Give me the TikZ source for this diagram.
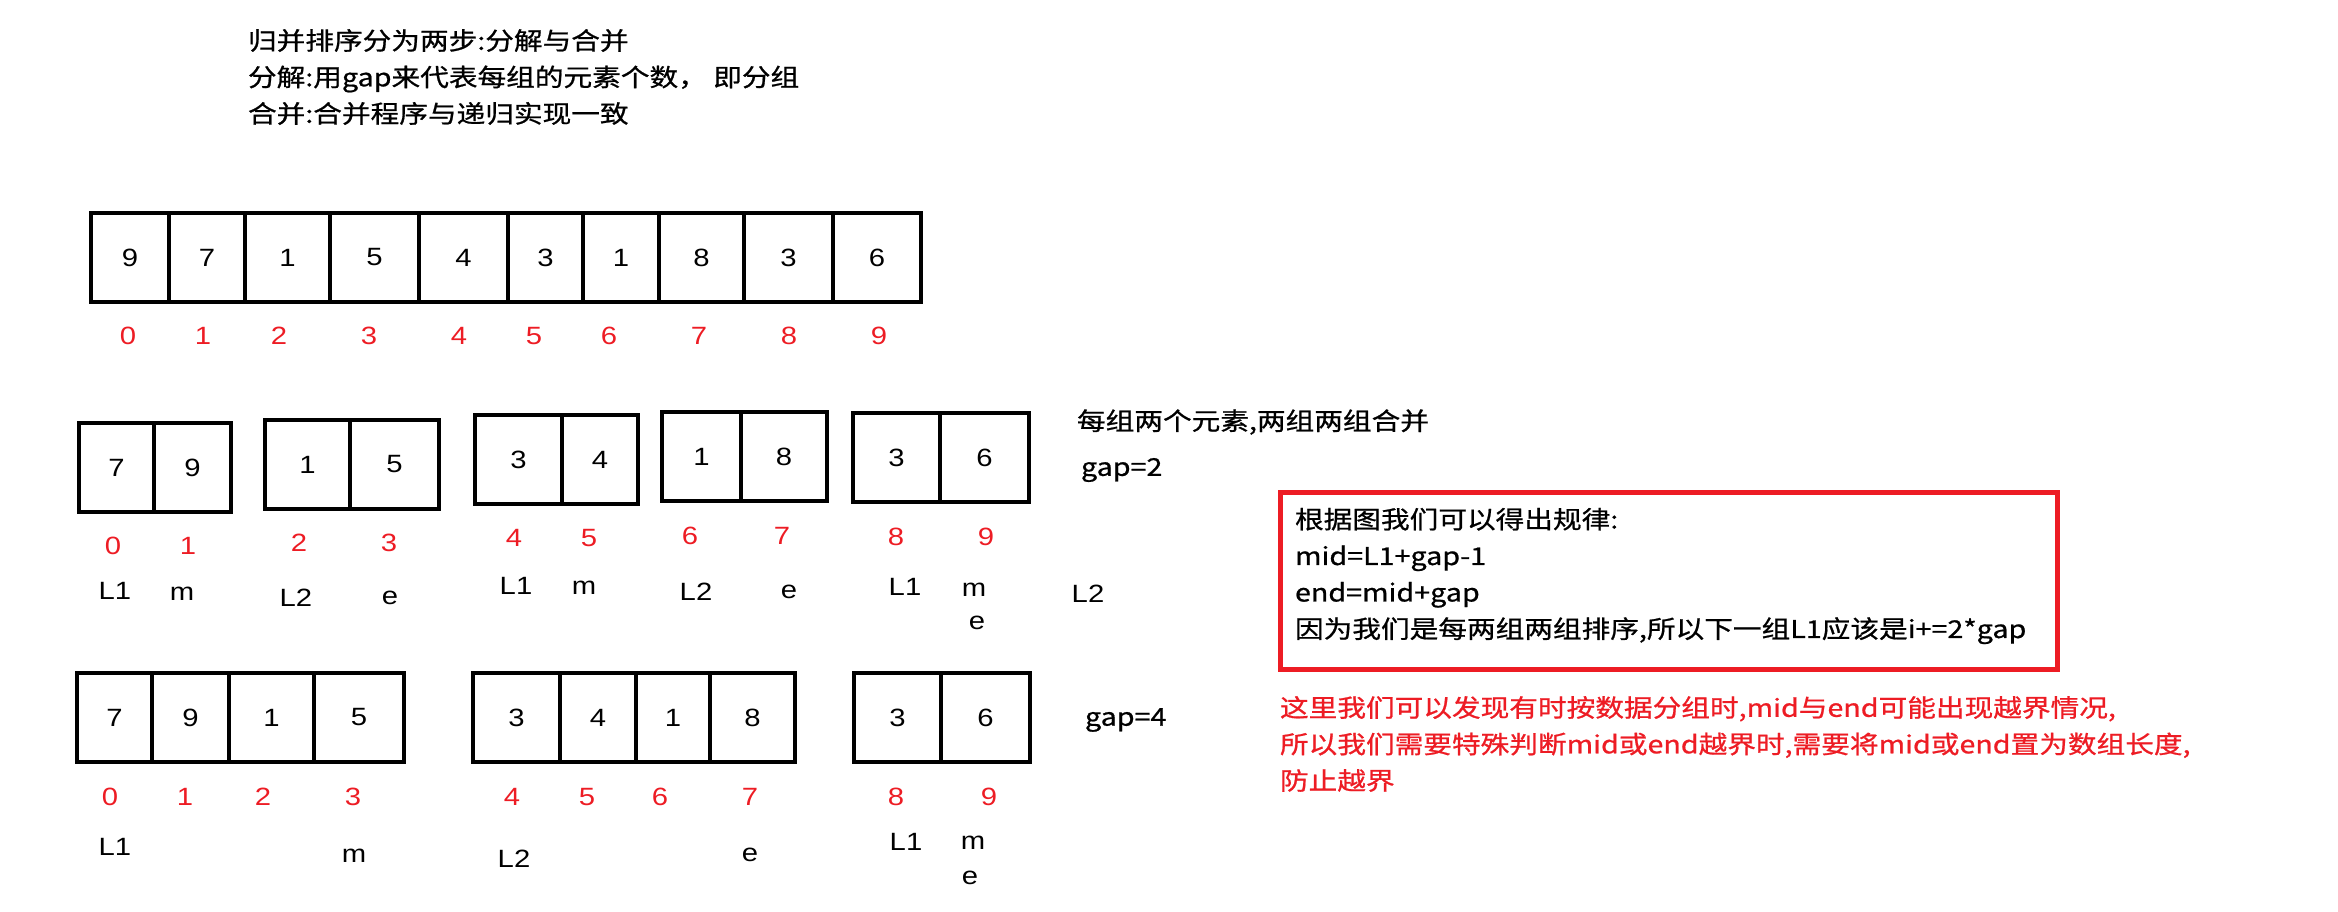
\documentclass[tikz,border=0pt]{standalone}
\usepackage{fontspec}
\setmainfont{Liberation Sans}[FakeStretch=1.17]
\newfontfamily\cjk{Noto Sans CJK SC}[FakeStretch=1.17, FakeBold=0.8]
\definecolor{paintred}{RGB}{237,28,36}
\begin{document}
\begin{tikzpicture}[x=1pt, y=-1pt, line join=miter,
  every node/.style={font=\fontsize{25}{30}\selectfont, inner sep=0pt, outer sep=0pt},
  cell/.style={draw, line width=4pt, minimum height=89pt},
  idx/.style={text=paintred},
  note/.style={anchor=west, align=left, font=\cjk\fontsize{24.5}{36.5}\selectfont}]
    \useasboundingbox (0,0) rectangle (2338,911);

    \node[note] (head) at (248, 77) {归并排序分为两步:分解与合并\\分解:用gap来代表每组的元素个数， 即分组\\合并:合并程序与递归实现一致};

    % whole array
    \node[cell, minimum width=77.5pt] (a0) at (130, 257.5) {9};
    \node[cell, minimum width=76pt] (a1) at (207, 257.5) {7};
    \node[cell, minimum width=85pt] (a2) at (287.5, 257.5) {1};
    \node[cell, minimum width=89pt] (a3) at (374.5, 257.5) {5};
    \node[cell, minimum width=89pt] (a4) at (463.5, 257.5) {4};
    \node[cell, minimum width=75pt] (a5) at (545.5, 257.5) {3};
    \node[cell, minimum width=76pt] (a6) at (621, 257.5) {1};
    \node[cell, minimum width=85pt] (a7) at (701.5, 257.5) {8};
    \node[cell, minimum width=89pt] (a8) at (788.5, 257.5) {3};
    \node[cell, minimum width=88pt] (a9) at (877, 257.5) {6};
    \node[idx] (ai0) at (128, 336) {0};
    \node[idx] (ai1) at (203, 336) {1};
    \node[idx] (ai2) at (279, 336) {2};
    \node[idx] (ai3) at (369, 336) {3};
    \node[idx] (ai4) at (459, 336) {4};
    \node[idx] (ai5) at (534, 336) {5};
    \node[idx] (ai6) at (609, 336) {6};
    \node[idx] (ai7) at (699, 336) {7};
    \node[idx] (ai8) at (789, 336) {8};
    \node[idx] (ai9) at (879, 336) {9};

    % gap=2
    \node[cell, minimum width=75pt] (b0) at (116.5, 467.5) {7};
    \node[cell, minimum width=77pt] (b1) at (192.5, 467.5) {9};
    \node[cell, minimum width=85pt] (b2) at (307.5, 464.5) {1};
    \node[cell, minimum width=89pt] (b3) at (394.5, 464.5) {5};
    \node[cell, minimum width=87pt] (b4) at (518.5, 459.5) {3};
    \node[cell, minimum width=76pt] (b5) at (600, 459.5) {4};
    \node[cell, minimum width=79pt] (b6) at (701.5, 456.5) {1};
    \node[cell, minimum width=86pt] (b7) at (784, 456.5) {8};
    \node[cell, minimum width=87pt] (b8) at (896.5, 457.5) {3};
    \node[cell, minimum width=89pt] (b9) at (984.5, 457.5) {6};
    \node[idx] (bi0) at (113, 546) {0};
    \node[idx] (bi1) at (188, 546) {1};
    \node[idx] (bi2) at (299, 543) {2};
    \node[idx] (bi3) at (389, 543) {3};
    \node[idx] (bi4) at (514, 538) {4};
    \node[idx] (bi5) at (589, 538) {5};
    \node[idx] (bi6) at (690, 536) {6};
    \node[idx] (bi7) at (782, 536) {7};
    \node[idx] (bi8) at (896, 537) {8};
    \node[idx] (bi9) at (986, 537) {9};
    \node (bl1) at (115, 591) {L1};
    \node (bm1) at (182, 594) {m};
    \node (bl2) at (296, 598) {L2};
    \node (be1) at (390, 598) {e};
    \node (bl3) at (516, 586) {L1};
    \node (bm2) at (584, 588) {m};
    \node (bl4) at (696, 592) {L2};
    \node (be2) at (789, 592) {e};
    \node (bl5) at (905, 587) {L1};
    \node (bm3) at (974, 590) {m};
    \node (be3) at (977, 623) {e};
    \node (bl6) at (1088, 594) {L2};
    \node[note] (pair) at (1077, 422) {每组两个元素,两组两组合并};
    \node[note] (gap2) at (1081, 470) {gap=2};

    % rule box
    \node[draw=paintred, line width=5pt, minimum width=777pt, minimum height=177pt, anchor=north west] (rule) at (1280, 492) {};
    \node[note] (ruletext) at (1295, 576) {根据图我们可以得出规律:\\mid=L1+gap-1\\end=mid+gap\\因为我们是每两组两组排序,所以下一组L1应该是i+=2*gap};

    % gap=4
    \node[cell, minimum width=75pt] (c0) at (114.5, 717.5) {7};
    \node[cell, minimum width=77pt] (c1) at (190.5, 717.5) {9};
    \node[cell, minimum width=85pt] (c2) at (271.5, 717.5) {1};
    \node[cell, minimum width=90pt] (c3) at (359, 717.5) {5};
    \node[cell, minimum width=87pt] (c4) at (516.5, 717.5) {3};
    \node[cell, minimum width=76pt] (c5) at (598, 717.5) {4};
    \node[cell, minimum width=74pt] (c6) at (673, 717.5) {1};
    \node[cell, minimum width=85pt] (c7) at (752.5, 717.5) {8};
    \node[cell, minimum width=87pt] (c8) at (897.5, 717.5) {3};
    \node[cell, minimum width=89pt] (c9) at (985.5, 717.5) {6};
    \node[idx] (ci0) at (110, 797) {0};
    \node[idx] (ci1) at (185, 797) {1};
    \node[idx] (ci2) at (263, 797) {2};
    \node[idx] (ci3) at (353, 797) {3};
    \node[idx] (ci4) at (512, 797) {4};
    \node[idx] (ci5) at (587, 797) {5};
    \node[idx] (ci6) at (660, 797) {6};
    \node[idx] (ci7) at (750, 797) {7};
    \node[idx] (ci8) at (896, 797) {8};
    \node[idx] (ci9) at (989, 797) {9};
    \node (cl1) at (115, 847) {L1};
    \node (cm1) at (354, 856) {m};
    \node (cl2) at (514, 859) {L2};
    \node (ce1) at (750, 855) {e};
    \node (cl3) at (906, 842) {L1};
    \node (cm2) at (973, 843) {m};
    \node (ce2) at (970, 878) {e};
    \node[note] (gap4) at (1085, 720) {gap=4};

    \node[note, text=paintred] (warn) at (1280, 744) {这里我们可以发现有时按数据分组时,mid与end可能出现越界情况,\\所以我们需要特殊判断mid或end越界时,需要将mid或end置为数组长度,\\防止越界};
\end{tikzpicture}
\end{document}
